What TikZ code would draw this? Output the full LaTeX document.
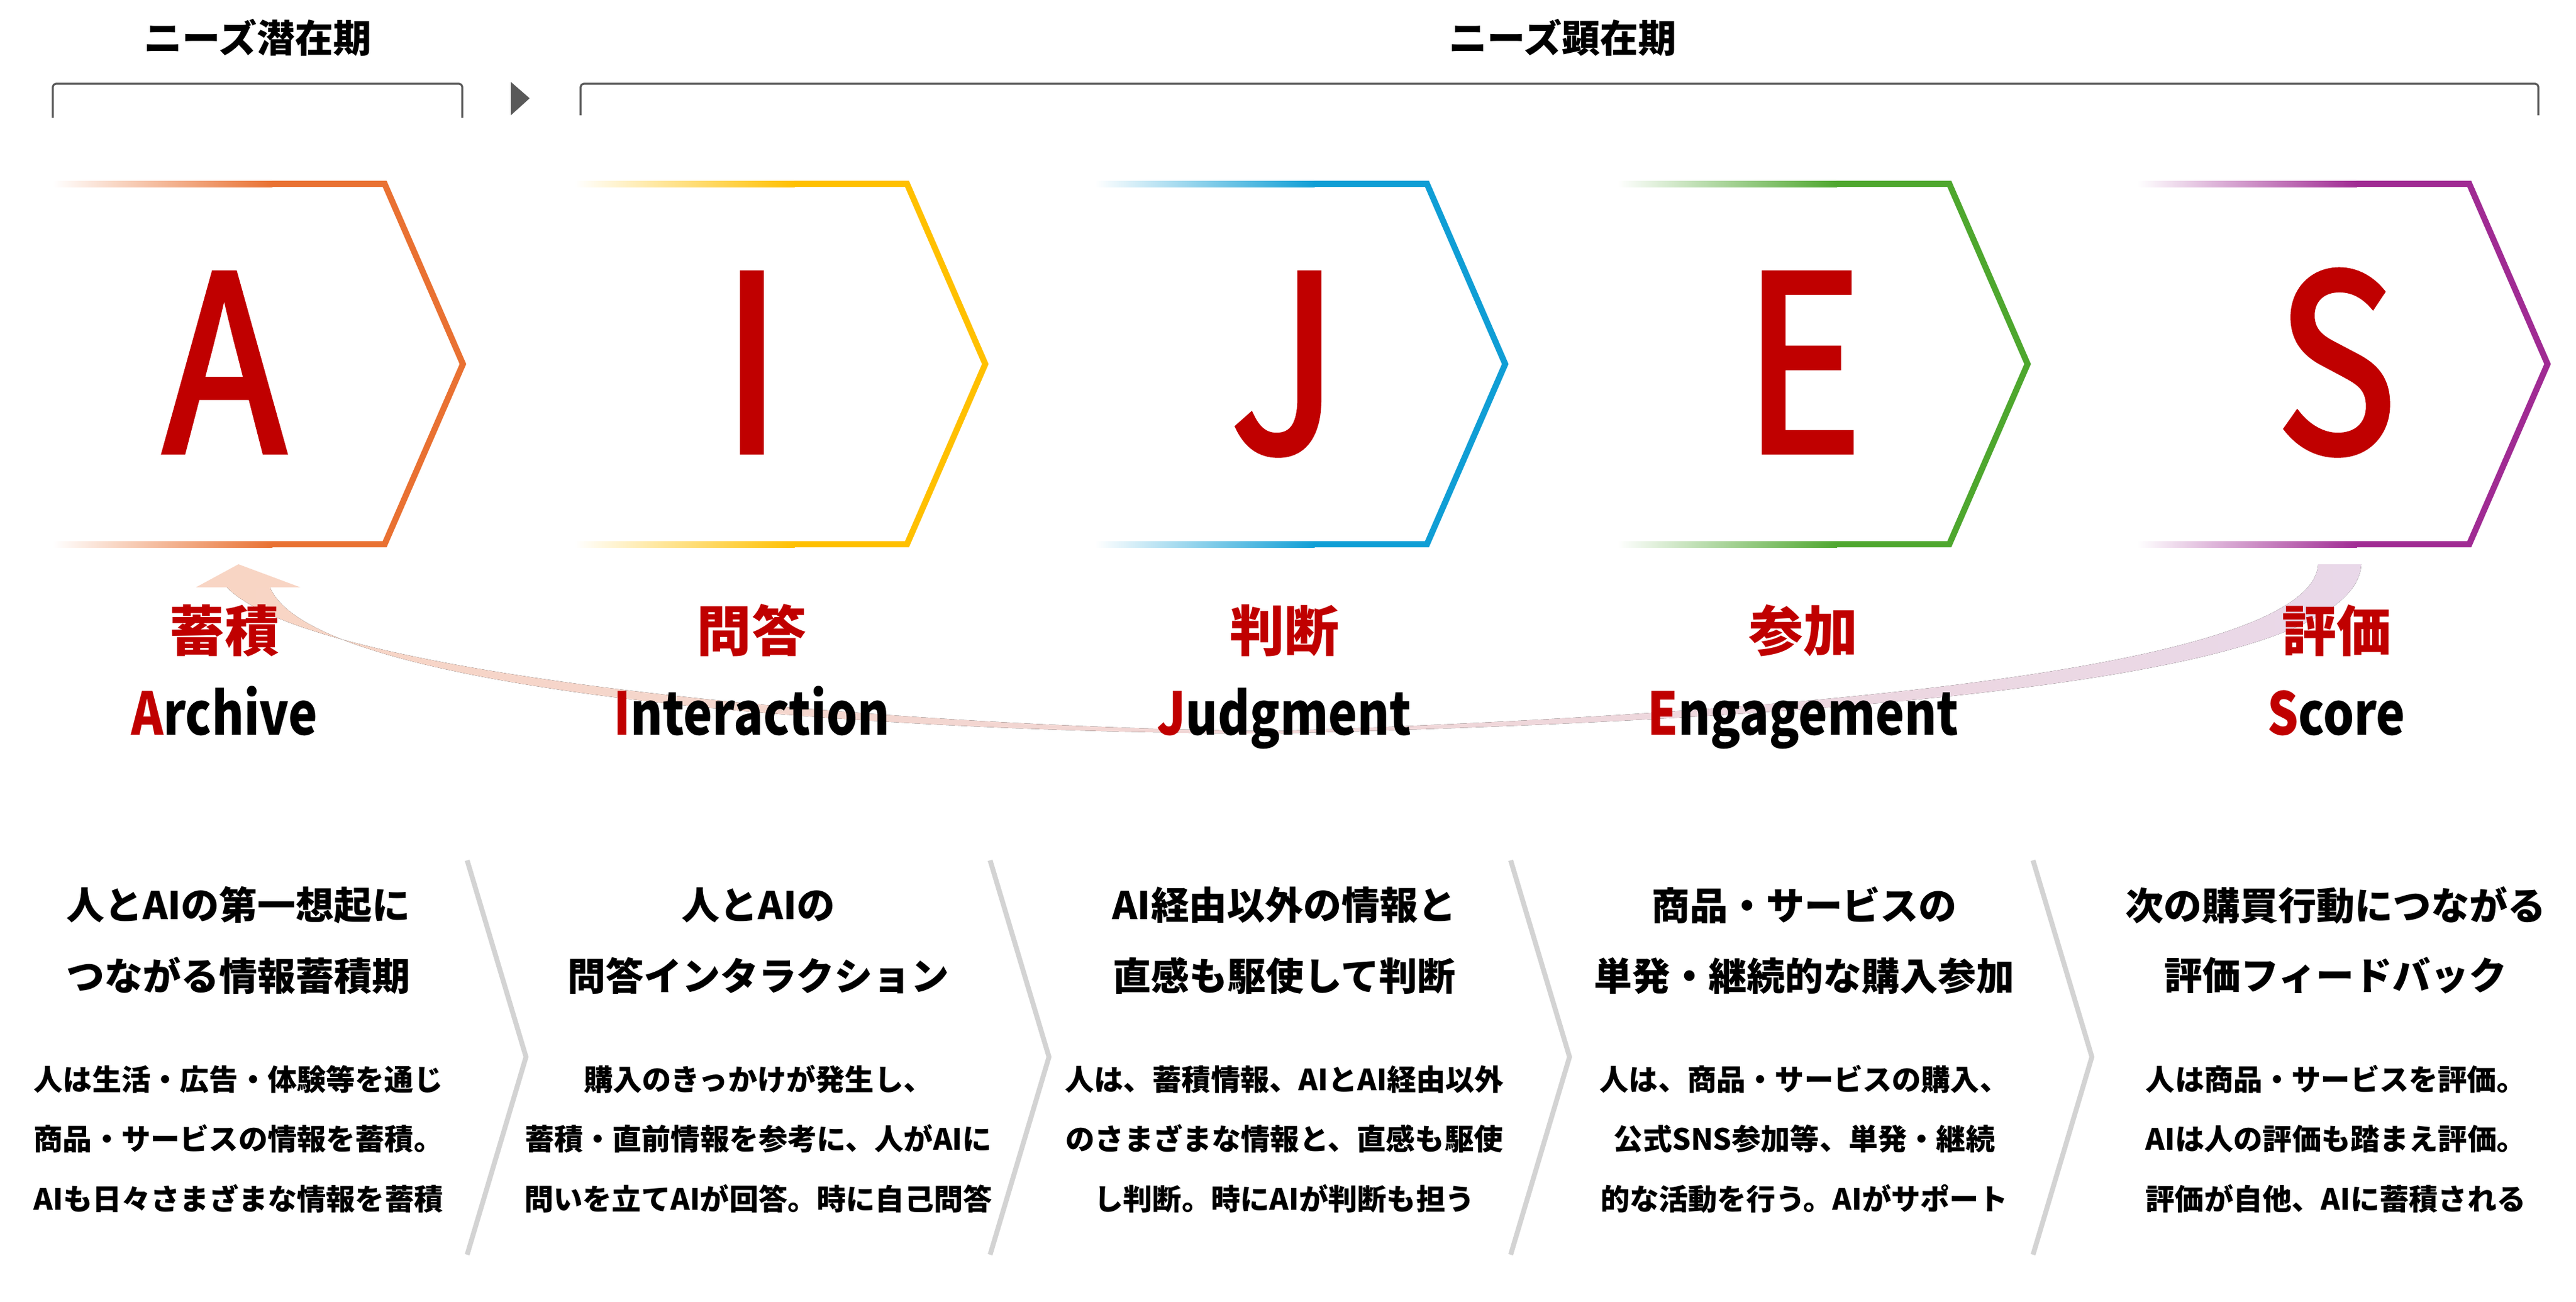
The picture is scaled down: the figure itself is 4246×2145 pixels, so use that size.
\documentclass[tikz,border=0pt]{standalone}
\usepackage{fontspec}
\setmainfont{Noto Sans CJK JP}
\newfontfamily\bigltr{Noto Sans CJK JP}[FakeStretch=0.82, FakeBold=2.2]
\newfontfamily\engfont{Noto Sans CJK JP}[FakeStretch=0.83]
\definecolor{aOrange}{HTML}{E97132}
\definecolor{aYellow}{HTML}{FFC000}
\definecolor{aBlue}{HTML}{0F9ED5}
\definecolor{aGreen}{HTML}{4EA72E}
\definecolor{aPurple}{HTML}{A02B93}
\definecolor{aRed}{HTML}{C00000}
\definecolor{brk}{HTML}{595959}
\definecolor{sepgray}{HTML}{D3D3D3}
\definecolor{arrL}{HTML}{F8D5C4}
\definecolor{arrM}{HTML}{FBE8E6}
\definecolor{arrR}{HTML}{E9D8E9}
\tikzset{
  chev/.style={line width=2.85pt, line join=miter, line cap=butt},
  brack/.style={draw=brk, line width=0.9pt, rounded corners=1.5pt},
  sepline/.style={draw=sepgray, line width=2.3pt, line join=miter},
  phase/.style={inner sep=0pt, font=\bfseries\fontsize{17.9pt}{18pt}\selectfont},
  bigl/.style={inner sep=0pt, anchor=base, text=aRed, font=\bigltr\fontsize{114.4pt}{115pt}\selectfont},
  redl/.style={inner sep=0pt, text=aRed, font=\bfseries\fontsize{25.6pt}{26pt}\selectfont},
  engl/.style={inner sep=0pt, anchor=base, font=\engfont\bfseries\fontsize{27.6pt}{28pt}\selectfont},
  headl/.style={inner sep=0pt, font=\bfseries\fontsize{17.9pt}{18pt}\selectfont},
  bodyl/.style={inner sep=0pt, font=\bfseries\fontsize{13.7pt}{14pt}\selectfont},
}
\begin{document}
\begin{tikzpicture}[x=0.01cm,y=-0.01cm]
\useasboundingbox (0,0) rectangle (4246,2145);
\fill[white] (0,0) rectangle (4246,2145);

% phase labels and brackets
\node[phase] (ph1) at (425,62) {ニーズ潜在期};
\node[phase] (ph2) at (2576,62) {ニーズ顕在期};
\draw[brack] (87,194) -- (87,138) -- (762,138) -- (762,194);
\draw[brack] (957,190) -- (957,138) -- (4184,138) -- (4184,190);
\fill[brk] (842,135) -- (873,162) -- (842,190) -- cycle;

% feedback arrow band
\fill[left color=arrL, middle color=arrM, right color=arrR]
  (3821,930) .. controls (3815,1040) and (3450,1160) .. (2100,1205)
  .. controls (1500,1200) and (520,1120) .. (374,968)
  -- (445,968)
  .. controls (520,1150) and (1500,1209) .. (2100,1209)
  .. controls (3500,1175) and (3885,1060) .. (3892,930) -- cycle;
\fill[arrL] (323,968) -- (393,930) -- (495,968) -- cycle;

% chevrons
\foreach \xc/\col in {634/aOrange,1495/aYellow,2352/aBlue,3213/aGreen,4070/aPurple}{
  \pgfmathsetmacro\xs{\xc-547}
  \pgfmathsetmacro\xm{\xc-186}
  \pgfmathsetmacro\xmm{\xc-185}
  \pgfmathsetmacro\xt{\xc+129}
  \draw[chev, draw=\col] (\xm,303) -- (\xc,303) -- (\xt,600) -- (\xc,897) -- (\xm,897);
  \shade[left color=white, right color=\col] (\xs,298) rectangle (\xmm,308);
  \shade[left color=white, right color=\col] (\xs,892) rectangle (\xmm,902);
}

% big letters
\node[bigl] (LA) at (370,745) {A};
\node[bigl] (LI) at (1239,745) {I};
\node[bigl] (LJ) at (2117,745) {J};
\node[bigl] (LE) at (2972,745) {E};
\node[bigl] (LS) at (3851,745) {S};

% red labels
\node[redl] (RA) at (370,1039) {蓄積};
\node[redl] (RI) at (1239,1039) {問答};
\node[redl] (RJ) at (2117,1039) {判断};
\node[redl] (RE) at (2972,1039) {参加};
\node[redl] (RS) at (3851,1039) {評価};

% english labels
\node[engl] (EA) at (370,1211) {\textcolor{aRed}{A}rchive};
\node[engl] (EI) at (1239,1211) {\textcolor{aRed}{I}nteraction};
\node[engl] (EJ) at (2117,1211) {\textcolor{aRed}{J}udgment};
\node[engl] (EE) at (2972,1211) {\textcolor{aRed}{E}ngagement};
\node[engl] (ES) at (3851,1211) {\textcolor{aRed}{S}core};

% separators
\foreach \t in {770,1632,2490,3351}{
  \draw[sepline] (\t,1418) -- (\t+97,1742) -- (\t,2068);
}

% column 1
\node[headl] (h1a) at (393,1492) {人とAIの第一想起に};
\node[headl] (h1b) at (393,1608) {つながる情報蓄積期};
\node[bodyl] (b1a) at (393,1779) {人は生活・広告・体験等を通じ};
\node[bodyl] (b1b) at (393,1877) {商品・サービスの情報を蓄積。};
\node[bodyl] (b1c) at (393,1976) {AIも日々さまざまな情報を蓄積};
% column 2
\node[headl] (h2a) at (1250,1492) {人とAIの};
\node[headl] (h2b) at (1250,1608) {問答インタラクション};
\node[bodyl] (b2a) at (1250,1779) {購入のきっかけが発生し、};
\node[bodyl] (b2b) at (1250,1877) {蓄積・直前情報を参考に、人がAIに};
\node[bodyl] (b2c) at (1250,1976) {問いを立てAIが回答。時に自己問答};
% column 3
\node[headl] (h3a) at (2117,1492) {AI経由以外の情報と};
\node[headl] (h3b) at (2117,1608) {直感も駆使して判断};
\node[bodyl] (b3a) at (2117,1779) {人は、蓄積情報、AIとAI経由以外};
\node[bodyl] (b3b) at (2117,1877) {のさまざまな情報と、直感も駆使};
\node[bodyl] (b3c) at (2117,1976) {し判断。時にAIが判断も担う};
% column 4
\node[headl] (h4a) at (2974,1492) {商品・サービスの};
\node[headl] (h4b) at (2974,1608) {単発・継続的な購入参加};
\node[bodyl] (b4a) at (2974,1779) {人は、商品・サービスの購入、};
\node[bodyl] (b4b) at (2974,1877) {公式SNS参加等、単発・継続};
\node[bodyl] (b4c) at (2974,1976) {的な活動を行う。AIがサポート};
% column 5
\node[headl] (h5a) at (3850,1492) {次の購買行動につながる};
\node[headl] (h5b) at (3850,1608) {評価フィードバック};
\node[bodyl] (b5a) at (3850,1779) {人は商品・サービスを評価。};
\node[bodyl] (b5b) at (3850,1877) {AIは人の評価も踏まえ評価。};
\node[bodyl] (b5c) at (3850,1976) {評価が自他、AIに蓄積される};
\end{tikzpicture}
\end{document}
